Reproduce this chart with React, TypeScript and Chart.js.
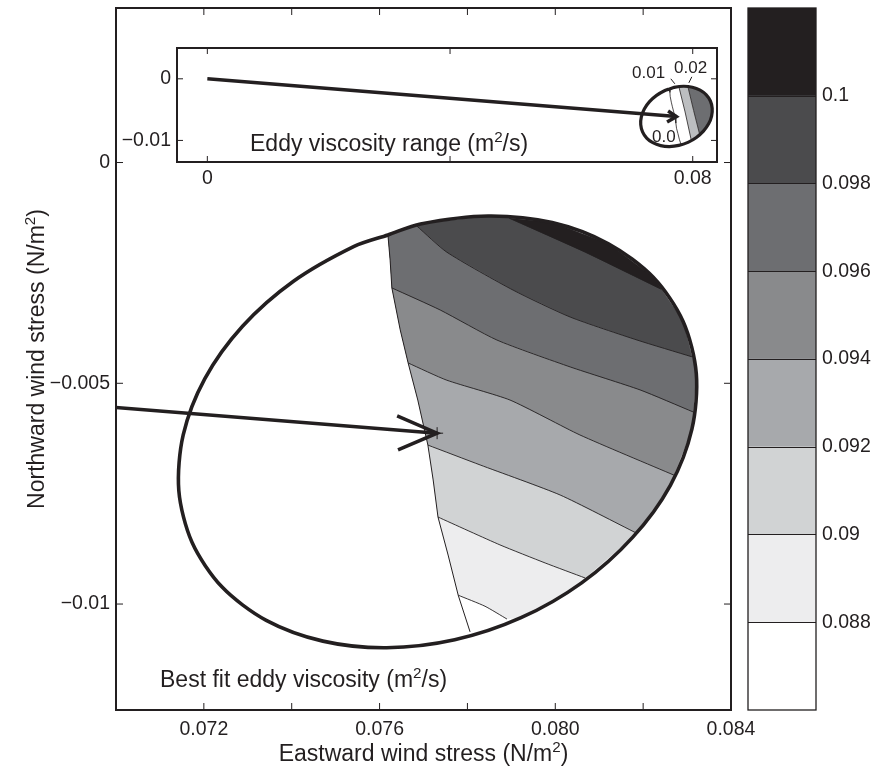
import React, { useEffect, useRef } from 'react';
import { Chart, registerables } from 'chart.js';

Chart.register(...registerables);

const FONT = '"Liberation Sans", Arial, Helvetica, sans-serif';
const INK = '#231f20';

// ---------- main axes ----------
const xTickValues = [0.072, 0.074, 0.076, 0.078, 0.08, 0.082, 0.084];
const xTickLabels = ['0.072', '', '0.076', '', '0.080', '', '0.084'];
const yTickValues = [0, -0.005, -0.01];
const yTickLabels = ['0', '\u22120.005', '\u22120.01'];

// ---------- colour levels (colorbar) ----------
const levelEdges = [0.086, 0.088, 0.09, 0.092, 0.094, 0.096, 0.098, 0.1, 0.102];
const levelColors = ['#ffffff', '#ededee', '#d1d3d4', '#a7a9ac', '#898a8c', '#6d6e71', '#4b4b4d', '#231f20'];
const colorbarTickValues = [0.088, 0.09, 0.092, 0.094, 0.096, 0.098, 0.1];
const colorbarTickLabels = ['0.088', '0.09', '0.092', '0.094', '0.096', '0.098', '0.1'];

// ---------- confidence ellipse (clockwise from upper-left corner of shading) ----------
const ellipseX = [0.07619, 0.07693, 0.07847, 0.07993, 0.08121, 0.08223, 0.08291, 0.08321, 0.08311, 0.08262, 0.08176, 0.0806, 0.07922, 0.07771, 0.07616, 0.07471, 0.07342, 0.07241, 0.07173, 0.07143, 0.07153, 0.07202, 0.07288, 0.07404, 0.07542];
const ellipseY = [-0.00164, -0.00139, -0.00121, -0.00136, -0.00184, -0.0026, -0.0036, -0.00478, -0.00604, -0.00731, -0.00849, -0.00952, -0.01031, -0.01081, -0.01099, -0.01084, -0.01037, -0.00961, -0.0086, -0.00743, -0.00617, -0.0049, -0.00371, -0.00269, -0.0019];

// left edge of the valid (shaded) region
const edgeX = [0.07619, 0.07624, 0.07628, 0.07647, 0.07665, 0.07687, 0.0771, 0.07722, 0.07733, 0.07756, 0.07779, 0.07806];
const edgeY = [-0.00164, -0.00221, -0.00284, -0.00379, -0.00454, -0.00538, -0.0064, -0.00719, -0.00803, -0.00889, -0.0098, -0.01063];

// contour lines of best-fit eddy viscosity
const contourLevels = [0.088, 0.09, 0.092, 0.094, 0.096, 0.098, 0.1];
const contourX = [
  [0.07779, 0.0784, 0.0789],
  [0.07733, 0.07874, 0.07977, 0.08068],
  [0.0771, 0.07829, 0.08011, 0.08184],
  [0.07665, 0.07753, 0.07897, 0.08056, 0.0827],
  [0.07628, 0.07738, 0.07867, 0.08034, 0.08193, 0.08314],
  [0.07685, 0.07753, 0.07904, 0.08034, 0.08186, 0.08311],
  [0.07895, 0.08068, 0.08241],
];
const contourY = [
  [-0.0098, -0.01005, -0.01034],
  [-0.00803, -0.00866, -0.00907, -0.00941],
  [-0.0064, -0.00685, -0.00753, -0.00839],
  [-0.00454, -0.00493, -0.00538, -0.00617, -0.00708],
  [-0.00284, -0.00334, -0.00402, -0.00463, -0.00515, -0.00565],
  [-0.00144, -0.00203, -0.00289, -0.0035, -0.00402, -0.0044],
  [-0.00126, -0.00203, -0.00287],
];
// which ellipse / edge vertices close each "above level" region
const contourArcFrom = [12, 10, 9, 8, 7, 6, 5];
const contourArcTo = [1, 1, 1, 1, 1, 1, 3];
const contourEdgeTo = [9, 7, 5, 3, 1, -1, -1];

// best fit wind stress and arrow from the origin
const originX = 0;
const originY = 0;
const bestFitX = 0.07731;
const bestFitY = -0.00613;
const arrowBarbX = [0.0764, 0.07731, 0.07642];
const arrowBarbY = [-0.00574, -0.00613, -0.00651];

// ---------- inset ----------
const insetXTickValues = [0, 0.04, 0.08];
const insetXTickLabels = ['0', '', '0.08'];
const insetYTickValues = [0, -0.01];
const insetYTickLabels = ['0', '\u22120.01'];
const insetBarbX = [0.07594, 0.07731, 0.07577];
const insetBarbY = [-0.00523, -0.00613, -0.00701];
const rangeBX = [0.07772, 0.07874, 0.07977];
const rangeBY = [-0.0013, -0.00538, -0.01];
const rangeCX = [0.0792, 0.08015, 0.08115];
const rangeCY = [-0.00126, -0.00515, -0.00905];
const insetBandColors = ['#bcbec0', '#6d6e71'];
const leader1X = [0.07639, 0.07705];
const leader1Y = [0.0, -0.00081];
const leader2X = [0.07985, 0.07936];
const leader2Y = [0.00032, -0.00065];

// ---------- helpers ----------
type P = { x: number; y: number };
const pts = (xs: number[], ys: number[]): P[] => xs.map((x, i) => ({ x, y: ys[i] }));
const closed = (xs: number[], ys: number[]): P[] => {
  const p = pts(xs, ys);
  p.push(p[0]);
  return p;
};
const ell = (i: number): P => ({ x: ellipseX[i], y: ellipseY[i] });

function bandPolygon(k: number): P[] {
  const out = pts(contourX[k], contourY[k]);
  for (let i = contourArcFrom[k]; i >= contourArcTo[k]; i--) out.push(ell(i));
  if (contourEdgeTo[k] >= 0) for (let i = 0; i <= contourEdgeTo[k]; i++) out.push({ x: edgeX[i], y: edgeY[i] });
  out.push(out[0]);
  return out;
}

function insetDarkPolygon(): P[] {
  const out: P[] = [{ x: rangeCX[0], y: rangeCY[0] }];
  for (let i = 3; i <= 10; i++) out.push(ell(i));
  out.push({ x: rangeCX[2], y: rangeCY[2] }, { x: rangeCX[1], y: rangeCY[1] });
  out.push(out[0]);
  return out;
}
function insetLightPolygon(): P[] {
  const out: P[] = [{ x: rangeBX[0], y: rangeBY[0] }, ell(2)];
  out.push(...pts(rangeCX, rangeCY));
  out.push(ell(11), { x: rangeBX[2], y: rangeBY[2] }, { x: rangeBX[1], y: rangeBY[1] });
  out.push(out[0]);
  return out;
}

const line = (data: P[], color: string, width: number, extra: any = {}) => ({
  data,
  borderColor: color,
  borderWidth: width,
  pointRadius: 0,
  fill: false,
  tension: 0,
  ...extra,
});
const poly = (data: P[], color: string) => ({
  data,
  borderColor: 'rgba(0,0,0,0)',
  borderWidth: 0,
  backgroundColor: color,
  fill: 'shape',
  pointRadius: 0,
  tension: 0,
});

type Run = { t: string; sup?: boolean };
function drawRich(ctx: CanvasRenderingContext2D, runs: Run[], x: number, y: number, size: number, align: 'left' | 'center') {
  const sup = size * 0.66;
  ctx.save();
  ctx.fillStyle = INK;
  ctx.textAlign = 'left';
  ctx.textBaseline = 'alphabetic';
  const widths = runs.map((r) => {
    ctx.font = `${r.sup ? sup : size}px ${FONT}`;
    return ctx.measureText(r.t).width;
  });
  let cx = align === 'center' ? x - widths.reduce((a, b) => a + b, 0) / 2 : x;
  runs.forEach((r, i) => {
    ctx.font = `${r.sup ? sup : size}px ${FONT}`;
    ctx.fillText(r.t, cx, r.sup ? y - size * 0.4 : y);
    cx += widths[i];
  });
  ctx.restore();
}

function drawFrame(chart: any, tickLen: number, frameWidth: number) {
  const { ctx, chartArea: a, scales } = chart;
  ctx.save();
  ctx.strokeStyle = INK;
  ctx.lineWidth = 1;
  ctx.beginPath();
  for (const t of scales.x.ticks) {
    const p = scales.x.getPixelForValue(t.value);
    ctx.moveTo(p, a.bottom);
    ctx.lineTo(p, a.bottom - tickLen);
    ctx.moveTo(p, a.top);
    ctx.lineTo(p, a.top + tickLen);
  }
  for (const t of scales.y.ticks) {
    const p = scales.y.getPixelForValue(t.value);
    ctx.moveTo(a.left, p);
    ctx.lineTo(a.left + tickLen, p);
    ctx.moveTo(a.right, p);
    ctx.lineTo(a.right - tickLen, p);
  }
  ctx.stroke();
  ctx.lineWidth = frameWidth;
  ctx.strokeRect(a.left, a.top, a.right - a.left, a.bottom - a.top);
  ctx.restore();
}

const tickFont = { family: FONT, size: 19.5 };

function axis(min: number, max: number, values: number[], labels: string[], fit: (s: any) => void, extra: any = {}) {
  return {
    type: 'linear',
    min,
    max,
    grid: { display: false, drawTicks: false, tickLength: 0 },
    border: { display: false },
    afterBuildTicks: (s: any) => {
      s.ticks = values.map((v) => ({ value: v }));
    },
    afterFit: fit,
    ticks: {
      callback: (_v: any, i: number) => labels[i],
      font: tickFont,
      color: INK,
      autoSkip: false,
      maxRotation: 0,
      minRotation: 0,
      ...extra,
    },
  };
}

const baseOptions = {
  animation: false,
  responsive: false,
  devicePixelRatio: 1,
  events: [],
  plugins: { legend: { display: false }, tooltip: { enabled: false } },
};

function mainConfig(): any {
  const tip = { x: bestFitX, y: bestFitY };
  const bands = contourLevels.map((_, k) => poly(bandPolygon(k), levelColors[k + 1])).reverse();
  return {
    type: 'line',
    data: {
      datasets: [
        line([{ x: originX, y: originY }, tip], INK, 3.5),
        line(pts(arrowBarbX, arrowBarbY), INK, 3.5),
        { data: [tip], showLine: false, pointStyle: 'cross', pointRadius: 6, pointBorderColor: INK, pointBorderWidth: 1 },
        line(closed(ellipseX, ellipseY), INK, 3.6, { tension: 0.3 }),
        line(pts(edgeX, edgeY), INK, 1),
        ...contourX.map((xs, k) => line(pts(xs, contourY[k]), INK, 0.9, { tension: 0.2 })),
        ...bands,
      ],
    },
    options: {
      ...baseOptions,
      layout: { padding: { left: 0, top: 8, right: 140, bottom: 0 } },
      scales: {
        x: axis(0.07, 0.084, xTickValues, xTickLabels, (s: any) => {
          s.height = 62;
          s.paddingLeft = 0;
          s.paddingRight = 0;
        }, { padding: 8 }),
        y: axis(-0.0124, 0.0035, yTickValues, yTickLabels, (s: any) => {
          s.width = 116;
          s.paddingTop = 0;
          s.paddingBottom = 0;
        }, { padding: 6 }),
      },
    },
    plugins: [
      {
        id: 'mainDecor',
        afterDraw(chart: any) {
          drawFrame(chart, 7, 2);
          const { ctx, chartArea: a } = chart;
          drawRich(ctx, [{ t: 'Eastward wind stress (N/m' }, { t: '2', sup: true }, { t: ')' }], (a.left + a.right) / 2, 761, 23, 'center');
          ctx.save();
          ctx.translate(44, (a.top + a.bottom) / 2);
          ctx.rotate(-Math.PI / 2);
          drawRich(ctx, [{ t: 'Northward wind stress (N/m' }, { t: '2', sup: true }, { t: ')' }], 0, 0, 23, 'center');
          ctx.restore();
          drawRich(ctx, [{ t: 'Best fit eddy viscosity (m' }, { t: '2', sup: true }, { t: '/s)' }], a.left + 44, 687, 23, 'left');
        },
      },
    ],
  };
}

function insetConfig(): any {
  const tip = { x: bestFitX, y: bestFitY };
  return {
    type: 'line',
    data: {
      datasets: [
        line([{ x: originX, y: originY }, tip], INK, 3.5),
        line(pts(insetBarbX, insetBarbY), INK, 3.5),
        line(pts(leader1X, leader1Y), INK, 1),
        line(pts(leader2X, leader2Y), INK, 1),
        line(closed(ellipseX, ellipseY), INK, 3.2, { tension: 0.3 }),
        line(pts(rangeCX, rangeCY), INK, 0.8),
        line(pts(rangeBX, rangeBY), INK, 0.8),
        line(pts(edgeX, edgeY), INK, 0.8),
        poly(insetDarkPolygon(), insetBandColors[1]),
        poly(insetLightPolygon(), insetBandColors[0]),
      ],
    },
    options: {
      ...baseOptions,
      layout: { padding: { left: 0, top: 8, right: 13, bottom: 0 } },
      scales: {
        x: axis(-0.005, 0.084, insetXTickValues, insetXTickLabels, (s: any) => {
          s.height = 38;
          s.paddingLeft = 0;
          s.paddingRight = 0;
        }, { padding: 5 }),
        y: axis(-0.0135, 0.005, insetYTickValues, insetYTickLabels, (s: any) => {
          s.width = 67;
          s.paddingTop = 0;
          s.paddingBottom = 0;
        }, { padding: 6 }),
      },
    },
    plugins: [
      {
        id: 'insetDecor',
        beforeDraw(chart: any) {
          const { ctx, chartArea: a } = chart;
          ctx.save();
          ctx.fillStyle = '#ffffff';
          ctx.fillRect(a.left, a.top, a.right - a.left, a.bottom - a.top);
          ctx.restore();
        },
        afterDraw(chart: any) {
          drawFrame(chart, 6, 2);
          const { ctx, chartArea: a } = chart;
          drawRich(ctx, [{ t: 'Eddy viscosity range (m' }, { t: '2', sup: true }, { t: '/s)' }], a.left + 73, a.top + 103, 23, 'left');
          drawRich(ctx, [{ t: '0.01' }], a.left + 455, a.top + 30, 17, 'left');
          drawRich(ctx, [{ t: '0.02' }], a.left + 497, a.top + 25, 17, 'left');
          drawRich(ctx, [{ t: '0.0' }], a.left + 475, a.top + 94, 17, 'left');
        },
      },
    ],
  };
}

function colorbarConfig(): any {
  return {
    type: 'bar',
    data: {
      labels: [''],
      datasets: levelColors.map((c, i) => ({
        data: [[levelEdges[i], levelEdges[i + 1]]],
        backgroundColor: c,
        borderWidth: 0,
        barPercentage: 1,
        categoryPercentage: 1,
        grouped: false,
      })),
    },
    options: {
      ...baseOptions,
      layout: { padding: { left: 8, top: 8, right: 0, bottom: 62 } },
      scales: {
        x: { display: false },
        y: {
          ...axis(0.086, 0.102, colorbarTickValues, colorbarTickLabels, (s: any) => {
            s.width = 55;
            s.paddingTop = 0;
            s.paddingBottom = 0;
          }, { padding: 6 }),
          position: 'right',
        },
      },
    },
    plugins: [
      {
        id: 'colorbarDecor',
        afterDraw(chart: any) {
          const { ctx, chartArea: a, scales } = chart;
          ctx.save();
          ctx.strokeStyle = INK;
          ctx.lineWidth = 1;
          ctx.beginPath();
          levelEdges.slice(1, -1).forEach((v) => {
            const p = Math.round(scales.y.getPixelForValue(v)) + 0.5;
            ctx.moveTo(a.left, p);
            ctx.lineTo(a.right, p);
          });
          ctx.stroke();
          ctx.lineWidth = 1.3;
          ctx.strokeRect(a.left, a.top, a.right - a.left, a.bottom - a.top);
          ctx.restore();
        },
      },
    ],
  };
}

export default function App() {
  const mainRef = useRef<HTMLCanvasElement>(null);
  const insetRef = useRef<HTMLCanvasElement>(null);
  const barRef = useRef<HTMLCanvasElement>(null);

  useEffect(() => {
    Chart.defaults.font.family = FONT;
    Chart.defaults.color = INK;
    const charts = [
      new Chart(mainRef.current as HTMLCanvasElement, mainConfig()),
      new Chart(barRef.current as HTMLCanvasElement, colorbarConfig()),
      new Chart(insetRef.current as HTMLCanvasElement, insetConfig()),
    ];
    return () => charts.forEach((c) => c.destroy());
  }, []);

  return (
    <div style={{ position: 'absolute', left: 0, top: 0, width: 871, height: 772, background: '#ffffff', overflow: 'hidden' }}>
      <canvas ref={mainRef} width={871} height={772} style={{ position: 'absolute', left: 0, top: 0, width: 871, height: 772 }} />
      <canvas ref={barRef} width={131} height={772} style={{ position: 'absolute', left: 740, top: 0, width: 131, height: 772 }} />
      <canvas ref={insetRef} width={620} height={160} style={{ position: 'absolute', left: 110, top: 40, width: 620, height: 160 }} />
    </div>
  );
}
